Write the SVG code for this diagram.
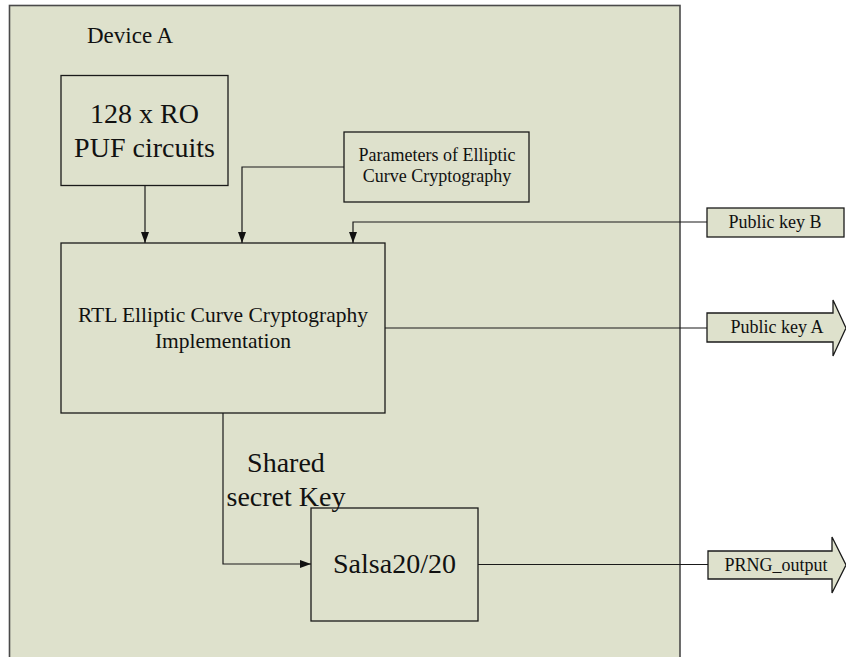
<svg xmlns="http://www.w3.org/2000/svg" width="846" height="657" viewBox="0 0 846 657">
  <style>
    .box { fill: #dee1cc; stroke: #1a1a1a; stroke-width: 1.3; }
    .frame { fill: #dee1cc; stroke: #4a4a4a; stroke-width: 1.6; }
    .wire { fill: none; stroke: #1a1a1a; stroke-width: 1.2; }
    text { font-family: "Liberation Serif", "Times New Roman", serif; fill: #111; }
    .mid { text-anchor: middle; }
  </style>
  <defs>
    <marker id="arrow" markerUnits="userSpaceOnUse" markerWidth="12" markerHeight="9" refX="11" refY="4" orient="auto">
      <path d="M0,0 L11,4 L0,8 Z" fill="#111"/>
    </marker>
  </defs>

  <!-- Device boundary -->
  <g id="device-a">
    <rect class="frame" x="9.5" y="5.5" width="670.5" height="660"/>
    <text x="87" y="43" font-size="23">Device A</text>
  </g>

  <g id="puf">
    <rect class="box" x="61" y="75.5" width="167" height="110"/>
    <text class="mid" x="144.5" y="123" font-size="28">128 x RO</text>
    <text class="mid" x="144.5" y="157" font-size="28">PUF circuits</text>
  </g>

  <g id="ecc-params">
    <rect class="box" x="344" y="132" width="185" height="70"/>
    <text class="mid" x="437" y="161" font-size="18">Parameters of Elliptic</text>
    <text class="mid" x="437" y="182" font-size="18">Curve Cryptography</text>
  </g>

  <g id="ecc-rtl">
    <rect class="box" x="61" y="243" width="324" height="170"/>
    <text class="mid" x="223" y="322" font-size="21.5">RTL Elliptic Curve Cryptography</text>
    <text class="mid" x="223" y="348" font-size="21.5">Implementation</text>
  </g>

  <g id="salsa">
    <rect class="box" x="311" y="508" width="167" height="113"/>
    <text class="mid" x="394.5" y="573" font-size="28">Salsa20/20</text>
  </g>

  <g id="public-key-b">
    <rect class="box" x="707" y="208" width="137" height="29"/>
    <text class="mid" x="775" y="228" font-size="18">Public key B</text>
  </g>

  <g id="public-key-a">
    <path class="box" d="M707,313 H833 V300 L846,328 L833,356 V342 H707 Z"/>
    <text class="mid" x="777" y="333" font-size="18">Public key A</text>
  </g>

  <g id="prng-output">
    <path class="box" d="M708,551 H832 V537 L846,565 L832,593 V579 H708 Z"/>
    <text class="mid" x="776" y="571" font-size="18">PRNG_output</text>
  </g>

  <g id="connectors">
    <path class="wire" d="M145,185.5 V243" marker-end="url(#arrow)"/>
    <path class="wire" d="M344,167 H242 V243" marker-end="url(#arrow)"/>
    <path class="wire" d="M707,222 H353 V243" marker-end="url(#arrow)"/>
    <path class="wire" d="M385,328 H707"/>
    <path class="wire" d="M223,413 V564 H311" marker-end="url(#arrow)"/>
    <path class="wire" d="M478,564.5 H708"/>
  </g>

  <g id="shared-key-label">
    <text class="mid" x="286" y="472" font-size="28">Shared</text>
    <text class="mid" x="286" y="506" font-size="28">secret Key</text>
  </g>
</svg>
